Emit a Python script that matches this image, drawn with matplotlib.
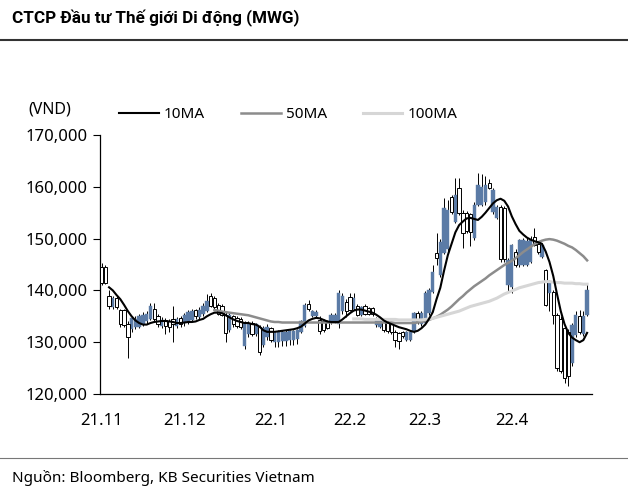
import numpy as np
import pandas as pd
import matplotlib
matplotlib.use("Agg")
import matplotlib.pyplot as plt
from matplotlib.ticker import FuncFormatter, FixedLocator

plt.rcParams['font.family'] = ['Noto Sans', 'DejaVu Sans']

# ---------------- data (prices in thousand VND) ----------------
dates = pd.bdate_range('2021-11-01', '2022-04-29')
month_labels = ['21.11', '21.12', '22.1', '22.2', '22.3', '22.4']

open_k = [144.5, 144.5, 139.0, 136.8, 138.5, 136.2, 136.2, 133.5, 132.5, 133.0,
          133.0, 133.5, 134.0, 134.5, 136.5, 135.0, 133.2, 134.2, 134.0, 134.5,
          133.2, 134.6, 133.7, 134.0, 134.3, 136.2, 134.8, 135.5, 136.0, 139.0,
          138.5, 137.2, 137.0, 135.3, 132.4, 135.0, 134.7, 134.5, 129.2, 131.5,
          133.8, 131.6, 133.0, 129.5, 131.0, 132.8, 130.0, 130.0, 130.2, 130.2,
          130.4, 130.4, 130.6, 132.0, 133.2, 137.4, 135.0, 135.0, 134.3, 134.0,
          134.0, 133.9, 134.0, 133.5, 136.0, 137.8, 138.7, 136.5, 137.0, 135.3,
          137.0, 136.6, 136.6, 133.3, 133.0, 133.9, 133.8, 133.5, 132.0, 131.8,
          132.0, 130.4, 130.4, 132.0, 135.6, 133.5, 133.7, 135.6, 139.7, 147.2,
          143.0, 147.2, 148.0, 158.0, 153.2, 159.8, 155.0, 155.0, 154.8, 150.1,
          156.5, 156.5, 157.0, 160.7, 155.1, 154.0, 156.1, 156.0, 141.0, 140.7,
          147.4, 144.9, 145.0, 145.0, 145.5, 150.3, 149.0, 146.5, 143.9, 139.5,
          139.7, 135.3, 134.5, 132.8, 132.0, 126.0, 131.4, 135.0, 131.5, 135.3]
high_k = [145.2, 145.0, 140.0, 139.0, 139.0, 136.5, 136.5, 134.0, 135.0, 135.0,
          135.5, 135.8, 136.0, 137.5, 137.5, 135.5, 134.8, 134.6, 134.5, 137.0,
          134.8, 135.0, 135.6, 136.2, 136.4, 136.5, 136.8, 137.5, 139.3, 139.5,
          139.0, 137.6, 137.3, 135.8, 135.6, 135.3, 135.0, 134.8, 134.0, 134.0,
          134.0, 133.8, 133.3, 133.2, 133.5, 133.0, 132.0, 132.3, 132.3, 132.3,
          132.4, 132.4, 132.6, 134.3, 137.5, 138.2, 136.3, 136.2, 135.0, 134.5,
          134.3, 135.6, 135.6, 140.0, 139.5, 138.3, 139.5, 139.5, 137.3, 137.0,
          137.3, 136.8, 136.8, 134.8, 134.5, 134.2, 134.0, 133.8, 132.4, 132.0,
          132.2, 132.2, 132.3, 135.9, 136.0, 136.0, 139.8, 140.4, 145.0, 151.1,
          150.0, 157.8, 157.5, 158.5, 161.7, 161.7, 155.5, 155.3, 155.0, 157.0,
          162.7, 162.5, 162.0, 161.5, 159.8, 156.4, 156.5, 156.3, 146.2, 149.0,
          148.0, 150.0, 150.2, 150.3, 150.5, 152.0, 149.5, 149.2, 144.2, 142.0,
          140.0, 135.6, 135.0, 133.0, 132.5, 133.8, 136.0, 136.3, 136.0, 141.3]
low_k = [141.0, 141.2, 136.5, 136.5, 136.5, 133.0, 133.0, 127.0, 132.0, 132.5,
         132.8, 133.2, 133.5, 134.2, 134.0, 133.0, 132.8, 131.5, 132.0, 130.0,
         132.8, 133.0, 133.2, 133.5, 134.0, 134.5, 134.5, 135.0, 135.8, 136.8,
         136.5, 135.2, 135.0, 130.0, 132.0, 133.0, 132.8, 132.5, 128.6, 131.0,
         131.2, 131.2, 127.5, 129.0, 130.4, 130.0, 129.0, 129.0, 129.2, 129.3,
         129.4, 129.5, 129.6, 131.7, 133.0, 136.0, 134.8, 134.8, 131.5, 132.0,
         132.5, 133.6, 133.8, 132.8, 135.5, 134.9, 136.0, 136.2, 135.0, 135.0,
         135.2, 135.2, 135.0, 133.0, 132.8, 132.0, 131.8, 131.5, 129.1, 128.6,
         130.8, 130.2, 130.2, 131.8, 133.5, 133.2, 133.5, 135.3, 139.5, 144.9,
         142.5, 147.0, 147.5, 154.8, 153.0, 154.5, 148.2, 151.0, 148.5, 149.8,
         156.2, 156.2, 156.5, 159.5, 154.8, 153.8, 145.5, 145.5, 139.7, 139.5,
         144.5, 144.6, 144.7, 144.8, 145.2, 148.5, 147.0, 146.2, 137.0, 136.0,
         133.5, 124.5, 124.0, 122.1, 121.5, 125.5, 131.0, 131.5, 131.2, 135.0]
close_k = [141.5, 141.5, 137.0, 138.5, 136.8, 133.5, 133.3, 131.0, 134.7, 134.5,
           135.0, 135.2, 135.5, 137.0, 134.5, 133.5, 134.3, 133.2, 133.0, 133.5,
           134.4, 133.5, 135.3, 135.8, 136.0, 135.0, 136.2, 137.0, 138.0, 137.0,
           136.8, 135.5, 135.3, 131.8, 135.3, 133.5, 133.2, 133.0, 133.8, 133.6,
           131.5, 133.5, 128.2, 132.8, 133.0, 130.5, 131.8, 132.0, 132.0, 132.0,
           132.2, 132.2, 132.4, 134.0, 137.2, 136.5, 136.0, 135.8, 132.2, 132.4,
           132.8, 135.3, 135.3, 139.5, 139.0, 136.0, 136.2, 138.5, 135.3, 136.8,
           135.5, 135.4, 135.4, 134.5, 134.3, 132.4, 132.2, 132.0, 130.4, 130.2,
           131.2, 132.0, 132.0, 135.6, 134.0, 135.6, 139.5, 140.0, 143.6, 146.3,
           149.3, 155.9, 155.5, 155.1, 158.4, 155.0, 151.1, 151.5, 151.3, 156.5,
           160.4, 160.0, 160.4, 159.8, 159.4, 156.1, 146.0, 146.0, 145.9, 148.8,
           144.9, 149.7, 149.7, 149.5, 149.7, 148.8, 147.5, 148.8, 137.2, 141.6,
           135.3, 125.0, 124.5, 123.1, 123.5, 133.4, 135.3, 132.0, 135.0, 140.1]

nan = np.nan
ma10_k = [nan, nan, 140.6, 140.0, 139.1, 138.3, 137.2, 136.0, 135.0, 134.2,
          133.7, 133.4, 133.4, 133.7, 133.9, 134.0, 134.1, 134.1, 134.0, 133.9,
          133.7, 133.7, 133.8, 133.9, 133.9, 134.0, 134.3, 134.5, 135.0, 135.4,
          135.7, 135.7, 135.6, 135.2, 134.8, 134.4, 134.1, 133.9, 133.7, 133.7,
          133.5, 133.4, 133.0, 132.3, 132.0, 132.0, 132.0, 132.1, 132.2, 132.3,
          132.4, 132.5, 132.7, 133.0, 133.6, 134.2, 134.5, 134.7, 134.6, 134.3,
          134.0, 133.9, 133.9, 133.9, 134.4, 135.0, 135.6, 136.1, 136.3, 136.3,
          136.1, 135.9, 135.7, 135.3, 134.8, 134.2, 133.8, 133.5, 133.2, 132.9,
          132.7, 132.5, 132.2, 132.0, 132.2, 132.7, 133.4, 134.5, 135.8, 138.3,
          140.5, 143.8, 146.8, 149.0, 151.2, 152.6, 153.3, 153.9, 154.0, 153.8,
          153.6, 154.2, 155.0, 155.9, 156.8, 157.4, 157.7, 157.3, 156.2, 154.3,
          152.8, 151.5, 150.8, 150.2, 149.8, 149.5, 149.3, 149.0, 147.5, 145.5,
          142.8, 139.3, 136.0, 133.5, 131.8, 130.9, 130.4, 130.0, 130.4, 131.8]
ma50_k = [nan] * 30 + [
          136.2, 136.1, 135.9, 135.8, 135.7, 135.6, 135.5, 135.4, 135.3, 135.2,
          135.0, 134.8, 134.6, 134.4, 134.2, 134.0, 133.9, 133.9, 133.8, 133.8,
          133.8, 133.8, 133.8, 133.8, 133.8, 133.8, 133.8, 133.8, 133.8, 133.8,
          133.8, 133.8, 133.8, 133.8, 133.8, 133.8, 133.8, 133.8, 133.8, 133.8,
          133.8, 133.8, 133.8, 133.8, 133.8, 133.8, 133.8, 133.8, 133.7, 133.7,
          133.7, 133.7, 133.7, 133.7, 133.8, 133.9, 134.1, 134.3, 134.6, 134.9,
          135.3, 135.8, 136.3, 136.9, 137.6, 138.3, 138.9, 139.6, 140.2, 140.8,
          141.3, 141.8, 142.3, 142.9, 143.4, 143.9, 144.4, 144.9, 145.3, 145.7,
          146.2, 146.8, 147.4, 147.9, 148.4, 148.9, 149.3, 149.6, 149.8, 149.9,
          149.8, 149.6, 149.3, 149.0, 148.6, 148.3, 147.8, 147.2, 146.6, 145.8]
ma100_k = [nan] * 67 + [
          134.5, 134.5, 134.5, 134.4, 134.4, 134.4, 134.4, 134.4, 134.4, 134.4,
          134.4, 134.4, 134.3, 134.3, 134.3, 134.3, 134.3, 134.3, 134.3, 134.4,
          134.5, 134.6, 134.8, 135.0, 135.2, 135.4, 135.6, 135.8, 136.0, 136.3,
          136.6, 136.9, 137.1, 137.3, 137.5, 137.7, 137.9, 138.2, 138.5, 138.9,
          139.3, 139.6, 139.9, 140.2, 140.5, 140.7, 140.9, 141.1, 141.3, 141.5,
          141.6, 141.7, 141.7, 141.6, 141.5, 141.5, 141.4, 141.4, 141.4, 141.3,
          141.3, 141.2, 141.2]

K = 1000.0
o = np.array(open_k) * K
h = np.array(high_k) * K
l = np.array(low_k) * K
c = np.array(close_k) * K
ma10 = np.array(ma10_k) * K
ma50 = np.array(ma50_k) * K
ma100 = np.array(ma100_k) * K

x = np.arange(len(dates))
month_start = [int(np.where((dates.year == y) & (dates.month == m))[0][0])
               for y, m in [(2021, 11), (2021, 12), (2022, 1), (2022, 2), (2022, 3), (2022, 4)]]

# ---------------- figure ----------------
W, H = 628, 496
fig = plt.figure(figsize=(W / 100, H / 100), dpi=100)
ax = fig.add_axes([100 / W, 1 - 394 / H, 492 / W, (394 - 135) / H])

BLUE = '#5b7ba6'
up = c >= o
ax.vlines(x, l, h, color='black', lw=0.7, zorder=2)
bw = 0.88
ax.bar(x[up], (c - o)[up], bottom=o[up], width=bw, color=BLUE, edgecolor=BLUE,
       lw=0.3, zorder=3)
ax.bar(x[~up], (o - c)[~up], bottom=c[~up], width=bw, color='white',
       edgecolor='black', lw=0.7, zorder=3)

ax.plot(x, ma50, color='#8c8c8c', lw=1.8, zorder=4, label='50MA')
ax.plot(x, ma100, color='#d6d6d6', lw=2.2, zorder=5, label='100MA')
ax.plot(x, ma10, color='black', lw=1.5, zorder=6, label='10MA')

FS = 12
ax.set_xlim(-0.4, 130.3)
ax.set_ylim(120000, 170000)
ax.yaxis.set_major_locator(FixedLocator(np.arange(120000, 170001, 10000)))
ax.yaxis.set_major_formatter(FuncFormatter(lambda v, p: f'{v:,.0f}'))
ax.set_xticks(month_start)
ax.set_xticklabels(month_labels)
for s in ['top', 'right']:
    ax.spines[s].set_visible(False)
for s in ['left', 'bottom']:
    ax.spines[s].set_color('black')
    ax.spines[s].set_linewidth(0.9)
ax.tick_params(axis='y', direction='out', length=5, width=0.8, pad=4, labelsize=FS)
ax.tick_params(axis='x', direction='out', length=0, pad=14, labelsize=FS)

handles, labels = ax.get_legend_handles_labels()
order = [labels.index('10MA'), labels.index('50MA'), labels.index('100MA')]
fig.legend([handles[i] for i in order], [labels[i] for i in order],
           loc='center left', bbox_to_anchor=(119 / W, 1 - 115 / H), ncol=3,
           frameon=False, fontsize=11, handlelength=2.6, handletextpad=0.33,
           columnspacing=2.35, borderpad=0, borderaxespad=0)

fig.text(28 / W, 1 - 110 / H, '(VND)', fontsize=11.5, va='center', ha='left')

fig.text(12 / W, 1 - 18 / H, 'CTCP Đầu tư Thế giới Di động (MWG)', fontsize=12.3,
         family=['Roboto', 'DejaVu Sans'], fontweight='bold', va='center', ha='left')
fig.add_artist(plt.Line2D([0, 1], [1 - 40 / H, 1 - 40 / H], color='#333333', lw=1.5))
fig.add_artist(plt.Line2D([0, 1], [1 - 458 / H, 1 - 458 / H], color='#777777', lw=0.8))
fig.text(12 / W, 1 - 478 / H, 'Nguồn: Bloomberg, KB Securities Vietnam', fontsize=11,
         va='center', ha='left')

fig.savefig('out.png', dpi=100)
